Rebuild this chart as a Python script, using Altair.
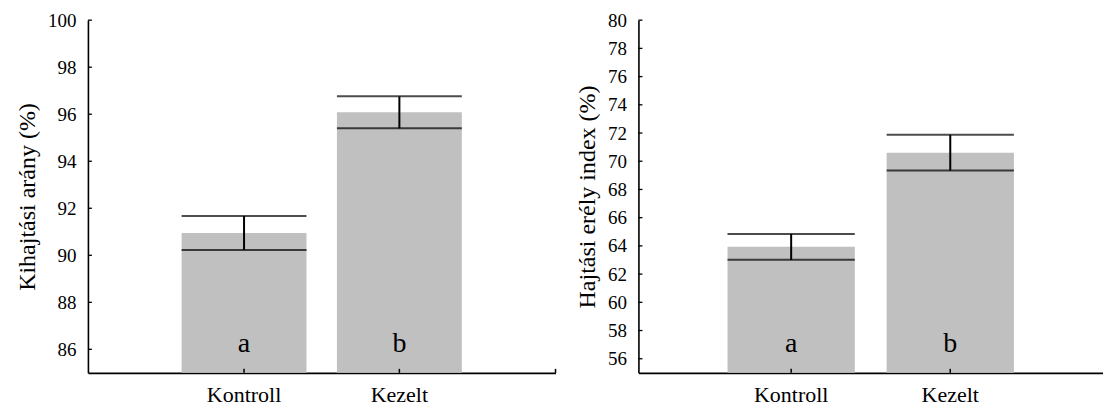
import altair as alt
import pandas as pd

groups = ["Kontroll", "Kezelt"]
letters = ["a", "b"]

# Left panel: Kihajtási arány (%)
kih_mean = [90.95, 96.08]
kih_se = [0.72, 0.68]
kih_ticks = [86, 88, 90, 92, 94, 96, 98, 100]

# Right panel: Hajtási erély index (%)
haj_mean = [63.93, 70.61]
haj_se = [0.92, 1.27]
haj_ticks = [56, 58, 60, 62, 64, 66, 68, 70, 72, 74, 76, 78, 80]

FONT = "Liberation Serif"
H = 353


def panel(mean, se, domain, ticks, title, width, p_in, p_out, endcap=True):
    df = pd.DataFrame({
        "group": groups,
        "mean": mean,
        "lo": [m - s for m, s in zip(mean, se)],
        "hi": [m + s for m, s in zip(mean, se)],
        "letter": letters,
    })
    tdf = pd.DataFrame({"tick": ticks})
    band = width / (len(groups) - p_in + 2 * p_out) * (1 - p_in)

    xaxis = alt.Axis(title=None, labelAngle=0, ticks=False, tickSize=0,
                     labelFont=FONT, labelFontSize=22, labelPadding=12,
                     labelColor="black", domainColor="black", domainWidth=1.6)
    yaxis = alt.Axis(values=ticks, title=title, grid=False, ticks=False,
                     tickSize=0, labelFont=FONT, labelFontSize=19,
                     labelPadding=12, labelColor="black", titleFont=FONT,
                     titleFontSize=24, titlePadding=8, titleFontWeight="normal",
                     titleColor="black", domainColor="black", domainWidth=1.6)

    def X():
        return alt.X("group:N", sort=groups,
                     scale=alt.Scale(paddingInner=p_in, paddingOuter=p_out),
                     axis=xaxis)

    def Y(field):
        return alt.Y(field, scale=alt.Scale(domain=domain, zero=False, nice=False),
                     axis=yaxis, title=title)

    base = alt.Chart(df)
    bars = base.mark_bar(color="#c0c0c0", clip=True).encode(x=X(), y=Y("mean:Q"))
    err = base.mark_rule(color="black", strokeWidth=2).encode(
        x=X(), y=Y("lo:Q"), y2="hi:Q")
    cap_hi = base.mark_tick(color="black", thickness=2, size=band).encode(
        x=X(), y=Y("hi:Q"))
    cap_lo = base.mark_tick(color="black", thickness=2, size=band).encode(
        x=X(), y=Y("lo:Q"))
    txt = base.mark_text(font=FONT, fontSize=28, baseline="alphabetic",
                         color="black").encode(
        x=X(), y=alt.value(H - 21), text="letter:N")
    xt = base.mark_rule(color="black", strokeWidth=1.5).encode(
        x=X(), y=alt.value(H), y2=alt.value(H - 4))
    yt = alt.Chart(tdf).mark_rule(color="black", strokeWidth=1.3).encode(
        y=Y("tick:Q"), x=alt.value(0), x2=alt.value(4))
    layers = [bars, err, cap_hi, cap_lo, txt, xt, yt]
    if endcap:
        layers.append(alt.Chart(pd.DataFrame({"e": [0]})).mark_rule(
            color="black", strokeWidth=1.5).encode(
            x=alt.value(width), y=alt.value(H), y2=alt.value(H - 4)))
    return alt.layer(*layers).properties(width=width, height=H)


left = panel(kih_mean, kih_se, [85, 100], kih_ticks, "Kihajtási arány (%)",
             468, 0.196, 0.603)
right = panel(haj_mean, haj_se, [55, 80], haj_ticks, "Hajtási erély index (%)",
              465, 0.2, 0.56, endcap=False)

chart = alt.hconcat(left, right, spacing=19).properties(
    padding={"left": 7, "top": 3, "right": 0, "bottom": 0}
).configure_view(
    stroke=None
)

chart.save("out.html", embed_options={"renderer": "svg", "actions": False})
